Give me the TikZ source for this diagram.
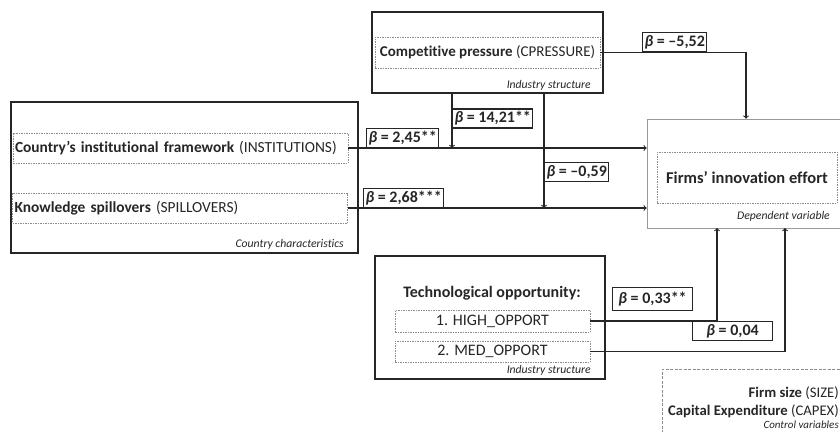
\documentclass[tikz,border=0pt]{standalone}
\usepackage{fontspec}
\setmainfont{Carlito}[Ligatures=NoCommon]
\usetikzlibrary{arrows}
\definecolor{ink}{HTML}{262626}
\newcommand{\betasym}{\textbf{\textit{β}}}

\begin{document}
\begin{tikzpicture}[x=1pt,y=-1pt,font=\fontsize{16}{18}\selectfont,text=ink,
	grp/.style={draw=ink,line width=1.1pt,inner sep=0pt},
	var/.style={draw=black!45,line width=0.5pt,dash pattern=on 1.5pt off 1pt,inner sep=0pt},
	coef/.style={draw=ink,line width=1.1pt,fill=white,inner sep=2pt,minimum height=19,font=\fontsize{16}{18}\selectfont\bfseries},
	note/.style={font=\fontsize{11.7}{13}\selectfont\itshape,inner sep=1pt},
	link/.style={->,draw=ink,line width=1.1pt}]
	\clip (0,0) rectangle (840,431);
	% country characteristics
	\node[grp,minimum width=347,minimum height=151] (country) at (184.5,177.5) {};
	\node[var,minimum width=335,minimum height=30,text width=331,align=left,font=\fontsize{15.4}{18}\selectfont] (inst) at (180.5,148) {\textbf{Country’s institutional framework} (INSTITUTIONS)};
	\node[var,minimum width=335,minimum height=30,text width=331,align=left,font=\fontsize{15.4}{18}\selectfont] (spill) at (180,208) {\textbf{Knowledge spillovers} (SPILLOVERS)};
	\node[note,anchor=south east] (cnote) at (345,251) {Country characteristics};
	% industry structure: competition
	\node[grp,minimum width=231,minimum height=81] (cpout) at (487.5,52.5) {};
	\node[var,minimum width=225,minimum height=31,font=\fontsize{15}{17}\selectfont] (cp) at (487.5,52.5) {\textbf{Competitive pressure} (CPRESSURE)};
	\node[note,anchor=south east] (cpnote) at (592,92) {Industry structure};
	% industry structure: opportunity
	\node[grp,minimum width=230,minimum height=123] (techout) at (490,317.5) {};
	\node (tech) at (492,293) {\textbf{Technological opportunity:}};
	\node[var,minimum width=195,minimum height=22] (high) at (492.5,321) {1. HIGH\_OPPORT};
	\node[var,minimum width=195,minimum height=21] (med) at (492.5,351.5) {2. MED\_OPPORT};
	\node[note,anchor=south east] (tnote) at (592,377) {Industry structure};
	% dependent variable
	\node[draw=black!40,line width=0.6pt,minimum width=198,minimum height=109,inner sep=0pt] (dep) at (746,173.5) {};
	\node[var,minimum width=180,minimum height=51,font=\fontsize{16.5}{18}\selectfont] (firms) at (747,177.5) {\textbf{Firms’ innovation effort}};
	\node[note,anchor=south east] (dnote) at (831,223) {Dependent variable};
	% control variables
	\node[draw=black!45,line width=0.6pt,dash pattern=on 3pt off 1.5pt,minimum width=188,minimum height=76,anchor=north west,inner sep=0pt] (ctrl) at (662,369) {};
	\node[anchor=east,inner sep=1pt,font=\fontsize{14.7}{17}\selectfont] (size) at (840,393) {\textbf{Firm size} (SIZE)};
	\node[anchor=east,inner sep=1pt,font=\fontsize{14.7}{17}\selectfont] (capex) at (840,411) {\textbf{Capital Expenditure} (CAPEX)};
	\node[note,anchor=east,font=\fontsize{11}{12}\selectfont\itshape] (ctnote) at (840,425) {Control variables};

	\coordinate (j1) at (452,148);
	\coordinate (j2) at (544,208);
	\coordinate (d1) at (717,228);
	\coordinate (d2) at (785,228);
	\draw[link] (inst.east) -- (inst.east -| dep.west);
	\draw[link] (spill.east) -- (spill.east -| dep.west);
	\draw[link] (cp.east) -| (dep.north);
	\draw[link] (cpout.south -| j1) -- (j1);
	\draw[link] (cpout.south -| j2) -- (j2);
	\draw[link] (high.east) -| (d1);
	\draw[link] (med.east) -| (d2);

	\node[coef,anchor=south west] (b1) at (366,148) {\betasym{} = 2,45**};
	\node[coef,anchor=south west] (b2) at (363,208) {\betasym{} = 2,68***};
	\node[coef,anchor=south west] (b3) at (642,52) {\betasym{} = –5,52};
	\node[coef,anchor=west] (b4) at (452,118.5) {\betasym{} = 14,21**};
	\node[coef,anchor=west] (b5) at (544,172) {\betasym{} = –0,59};
	\node[coef,anchor=south west,minimum width=80,minimum height=23] (b6) at (612,311) {\betasym{} = 0,33**};
	\node[coef,anchor=south west,minimum width=80] (b7) at (692,341) {\betasym{} = 0,04};
\end{tikzpicture}
\end{document}
